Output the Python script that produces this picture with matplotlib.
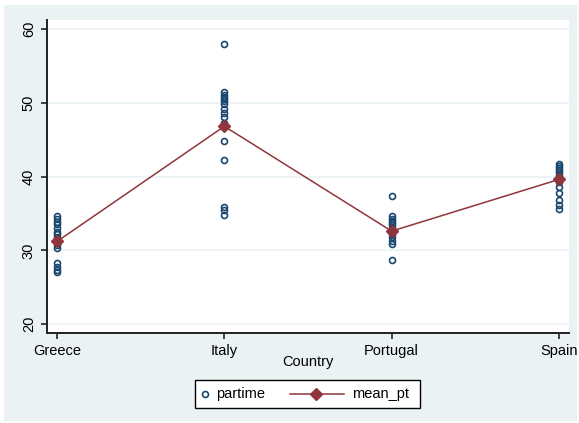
import numpy as np
import matplotlib
matplotlib.use("Agg")
import matplotlib.pyplot as plt
from matplotlib.lines import Line2D
from matplotlib.patches import Rectangle

plt.rcParams['font.family'] = ['Liberation Sans', 'DejaVu Sans']

countries = ["Greece", "Italy", "Portugal", "Spain"]

# Part-time share observations per country
partime_greece = [34.7, 34.2, 33.8, 33.5, 33.0, 32.5, 32.2, 31.8, 31.2, 30.7, 30.3,
                  28.3, 27.8, 27.4, 27.0]
partime_italy = [57.9, 51.4, 51.1, 50.8, 50.5, 50.2, 49.8, 49.2, 48.6, 48.0, 47.3,
                 44.8, 42.3, 35.9, 35.4, 34.8]
partime_portugal = [37.4, 34.6, 34.3, 34.0, 33.7, 33.4, 33.0, 32.6, 32.2, 31.8,
                    31.3, 30.8, 28.7]
partime_spain = [41.7, 41.4, 41.1, 40.9, 40.6, 40.2, 39.8, 39.2, 38.6, 37.8,
                 36.8, 36.2, 35.6]

# Country means of part-time share
mean_pt = [31.2, 46.8, 32.6, 39.6]

yticks = [20, 30, 40, 50, 60]

W, H = 579, 423
FS = 10.5
fig = plt.figure(figsize=(W / 100, H / 100), dpi=100, facecolor="white")


def fx(px):
    return px / W


def fy(py):
    return 1 - py / H


# Outer graph region
fig.patches.append(Rectangle((fx(4), fy(421)), fx(573), 416 / H,
                             transform=fig.transFigure, facecolor="#eaf2f3",
                             edgecolor="none", zorder=-10))

ax = fig.add_axes([fx(47), fy(333), (569 - 47) / W, (333 - 20) / H])
ax.set_facecolor("white")

navy = "#1a476f"
maroon = "#90353b"
circ = dict(linestyle="none", marker="o", markersize=4.3, markerfacecolor="none",
            markeredgecolor=navy, markeredgewidth=1.2)
meanstyle = dict(color=maroon, linewidth=1.1, marker="D", markersize=6,
                 markerfacecolor=maroon, markeredgecolor=maroon)

groups = [partime_greece, partime_italy, partime_portugal, partime_spain]
for i, vals in enumerate(groups):
    ax.plot(np.full(len(vals), i + 1), vals, zorder=3, **circ)

xs = np.arange(1, len(countries) + 1)
ax.plot(xs, mean_pt, zorder=4, **meanstyle)

ax.set_xlim(0.94, 4.06)
ax.set_ylim(18.8, 61.2)
ax.set_yticks(yticks)
ax.set_xticks(xs)
ax.set_xticklabels(countries, fontsize=FS)
ax.set_yticklabels([str(t) for t in yticks], fontsize=FS, rotation=90, va="center")

ax.grid(axis="y", color="#eaf2f3", linewidth=1.2)
ax.set_axisbelow(True)

for s in ["top", "right"]:
    ax.spines[s].set_visible(False)
for s in ["left", "bottom"]:
    ax.spines[s].set_color("#222222")
    ax.spines[s].set_linewidth(1.4)

ax.tick_params(axis="both", length=4, width=1.2, color="#222222", pad=4)
ax.set_xlabel("Country", fontsize=FS, labelpad=-2)

# Legend box
fig.patches.append(Rectangle((fx(195), fy(408)), (420 - 195) / W, (408 - 380) / H,
                             transform=fig.transFigure, facecolor="white",
                             edgecolor="black", linewidth=1.0, zorder=5))
ly = fy(394)
fig.add_artist(Line2D([fx(205)], [ly], transform=fig.transFigure, zorder=6, **circ))
fig.text(fx(216), ly, "partime", fontsize=FS, va="center", ha="left", zorder=6)
fig.add_artist(Line2D([fx(290), fx(344)], [ly, ly], transform=fig.transFigure,
                      color=maroon, linewidth=1.1, zorder=6))
fig.add_artist(Line2D([fx(316)], [ly], transform=fig.transFigure, zorder=6,
                      linestyle="none", marker="D", markersize=6,
                      markerfacecolor=maroon, markeredgecolor=maroon))
fig.text(fx(352), ly, "mean_pt", fontsize=FS, va="center", ha="left", zorder=6)

fig.savefig("out.png", dpi=100, facecolor="white")
